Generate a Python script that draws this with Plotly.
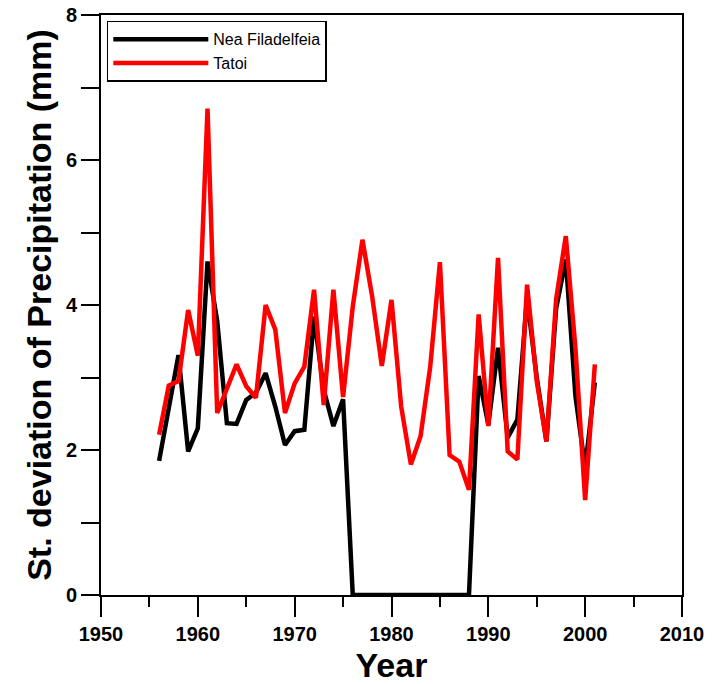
import plotly.graph_objects as go

years = list(range(1956, 2002))

nea_filadelfeia = [1.85, 2.55, 3.31, 1.98, 2.30, 4.60, 3.78, 2.37, 2.36, 2.69,
                   2.79, 3.06, 2.60, 2.07, 2.26, 2.28, 3.84, 2.83, 2.33, 2.70,
                   0.0, 0.0, 0.0, 0.0, 0.0, 0.0, 0.0, 0.0, 0.0, 0.0,
                   0.0, 0.0, 0.0, 3.02, 2.35, 3.41, 2.17, 2.42, 4.10, 3.00,
                   2.12, 3.95, 4.63, 2.74, 1.75, 2.93]

tatoi = [2.21, 2.89, 2.95, 3.93, 3.30, 6.71, 2.51, 2.85, 3.18, 2.88,
         2.72, 4.00, 3.66, 2.51, 2.92, 3.15, 4.21, 2.62, 4.21, 2.73,
         3.98, 4.90, 4.12, 3.16, 4.07, 2.60, 1.80, 2.19, 3.15, 4.59,
         1.93, 1.84, 1.45, 3.87, 2.33, 4.65, 1.98, 1.87, 4.28, 2.95,
         2.12, 4.08, 4.95, 3.40, 1.31, 3.18]

x_ticks = [1950, 1960, 1970, 1980, 1990, 2000, 2010]
y_ticks = [0, 2, 4, 6, 8]

FONT = "Liberation Sans, Arial, sans-serif"

fig = go.Figure()
fig.add_trace(go.Scatter(x=years, y=nea_filadelfeia, mode="lines", name="Nea Filadelfeia",
                         line=dict(color="black", width=4.5)))
fig.add_trace(go.Scatter(x=years, y=tatoi, mode="lines", name="Tatoi",
                         line=dict(color="#ff0000", width=4.5)))

fig.update_layout(
    width=715, height=684,
    margin=dict(l=101, r=33, t=15, b=89, autoexpand=False),
    paper_bgcolor="white", plot_bgcolor="white",
    font=dict(family=FONT, color="black"),
    showlegend=True,
    legend=dict(x=0.01, y=0.99, xanchor="left", yanchor="top",
                bgcolor="white", bordercolor="black", borderwidth=1.5,
                font=dict(size=16, family=FONT, color="black"),
                itemwidth=95, tracegroupgap=0),
    xaxis=dict(range=[1950, 2010], tickvals=x_ticks, ticktext=["<b>%d</b>" % v for v in x_ticks],
               automargin=False,
               showgrid=False, zeroline=False, showline=True, linecolor="black", linewidth=2,
               mirror=True, ticks="outside", ticklen=20, tickwidth=2, tickcolor="black",
               minor=dict(dtick=5, ticks="outside", ticklen=10, tickwidth=2, tickcolor="black", showgrid=False),
               tickfont=dict(size=20, family=FONT, color="black", weight="bold"),
               title=dict(text="<b>Year</b>", font=dict(size=34, family=FONT, color="black"), standoff=10)),
    yaxis=dict(range=[0, 8], tickvals=y_ticks, ticktext=["<b>%d</b>" % v for v in y_ticks],
               automargin=False,
               showgrid=False, zeroline=False, showline=True, linecolor="black", linewidth=2,
               mirror=True, ticks="outside", ticklen=18, tickwidth=2, tickcolor="black",
               minor=dict(dtick=1, ticks="outside", ticklen=18, tickwidth=2, tickcolor="black", showgrid=False),
               tickfont=dict(size=20, family=FONT, color="black", weight="bold"),
               title=dict(text="<b>St. deviation of Precipitation (mm)</b>",
                          font=dict(size=34, family=FONT, color="black"), standoff=4)),
)

fig.write_html("out.html")
